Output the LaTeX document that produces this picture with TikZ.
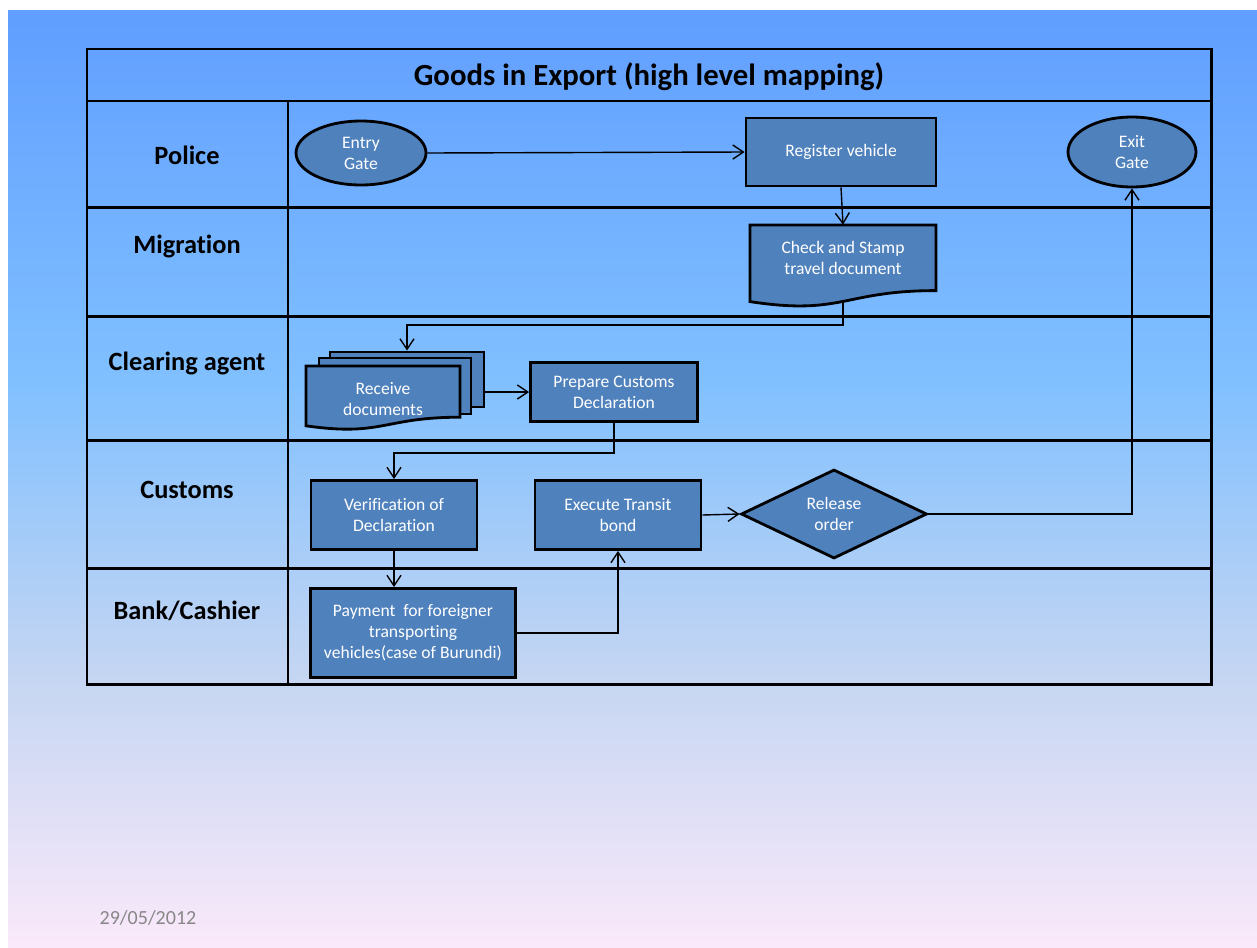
\documentclass[tikz,border=0pt]{standalone}
\usepackage{fontspec}
\setmainfont{Carlito}[Ligatures=CommonOff]
\usetikzlibrary{shapes.geometric,arrows.meta}

\definecolor{boxblue}{HTML}{4F81BD}
\definecolor{dategray}{RGB}{135,135,135}
\definecolor{skytop}{RGB}{96,158,255}
\definecolor{skymid}{RGB}{128,192,255}
\definecolor{skylow}{RGB}{198,214,242}
\definecolor{skybot}{RGB}{250,233,250}

% slide background, the path is mapped onto 25bp..75bp
\pgfdeclareverticalshading{slidesky}{100bp}{%
  color(0bp)=(skybot);
  color(25bp)=(skybot);
  color(39.2bp)=(skylow);
  color(55.3bp)=(skymid);
  color(75bp)=(skytop);
  color(100bp)=(skytop)}

\tikzset{
  stepbox/.style={draw, fill=boxblue, line width=1.6pt, text=white,
    align=center, inner sep=0pt, font=\fontsize{10}{12}\selectfont},
  gatebox/.style={stepbox, ellipse},
  choicebox/.style={stepbox, diamond, aspect=2},
  textonly/.style={text=white, align=center, inner sep=0pt,
    font=\fontsize{10}{12}\selectfont},
  lanename/.style={font=\bfseries\fontsize{15}{18}\selectfont},
  laneline/.style={line width=1.7pt},
  flow/.style={line width=0.8pt, -{Straight Barb[length=6pt,width=8pt]}}
}

\begin{document}
\begin{tikzpicture}[x=0.02cm,y=-0.02cm]
  \useasboundingbox (0,0) rectangle (1257,947);
  \shade[shading=slidesky]
    (8,10) rectangle (1257,947);

  % swimlane table
  \draw[laneline]
    (87,49)
    rectangle
    (1211,684);
  \draw[laneline]
    (87,101)
    --
    (1211,101);
  \draw[laneline]
    (87,207)
    --
    (1211,207);
  \draw[laneline]
    (87,316)
    --
    (1211,316);
  \draw[laneline]
    (87,440)
    --
    (1211,440);
  \draw[laneline]
    (87,568)
    --
    (1211,568);
  \draw[laneline]
    (288,101)
    --
    (288,684);

  \node[font=\bfseries\fontsize{17.5}{20}\selectfont] (title) at (649,77)
    {Goods in Export (high level mapping)};
  \node[lanename] (police) at (187,155) {Police};
  \node[lanename] (migration) at (187,246) {Migration};
  \node[lanename] (agent) at (187,363) {Clearing agent};
  \node[lanename] (customs) at (187,490) {Customs};
  \node[lanename] (bank) at (187,611) {Bank/Cashier};

  % steps
  \node[gatebox, minimum width=2.6cm, minimum height=1.28cm] (entry)
    at (361,153) {Entry\\Gate};
  \node[stepbox, minimum width=3.8cm, minimum height=1.36cm] (register)
    at (841,152) {Register vehicle};
  \node[gatebox, minimum width=2.56cm, minimum height=1.4cm] (exit)
    at (1132,152) {Exit\\Gate};

  \draw[fill=boxblue, line width=1.6pt]
    (750,225)
    --
    (936,225)
    --
    (936,290.6)
    .. controls (843,290.6) and (843,315.8) ..
    (750,301.6)
    --
    cycle;
  \node[textonly, minimum height=1.32cm] (check) at (843,258)
    {Check and Stamp\\travel document};
  \coordinate (checkbottom) at (843,301);

  \node[stepbox, minimum width=3.08cm, minimum height=1.1cm] (receiveback)
    at (407,379.5) {};
  \node[stepbox, minimum width=3.04cm, minimum height=1.12cm] (receivemid)
    at (395,386) {};
  \draw[fill=boxblue, line width=1.6pt]
    (306,366)
    --
    (460,366)
    --
    (460,417.2)
    .. controls (383,417.2) and (383,436.8) ..
    (306,425.8)
    --
    cycle;
  \node[textonly] (receive) at (383,399) {Receive\\documents};

  \node[stepbox, minimum width=3.34cm, minimum height=1.18cm] (prepare)
    at (614,392) {Prepare Customs\\Declaration};
  \node[stepbox, minimum width=3.32cm, minimum height=1.38cm] (verify)
    at (394,515) {Verification of\\Declaration};
  \node[stepbox, minimum width=3.32cm, minimum height=1.38cm] (transit)
    at (618,515) {Execute Transit\\bond};
  \node[choicebox, minimum width=3.72cm, minimum height=1.78cm] (release)
    at (834,514) {Release\\order};
  \node[stepbox, minimum width=4.1cm, minimum height=1.78cm] (payment)
    at (413,633) {Payment\ \ for foreigner\\transporting\\vehicles(case of Burundi)};

  % connectors
  \draw[flow]
    (entry.east)
    --
    (register.west);
  \draw[flow]
    (register.south)
    --
    (check.north);
  \draw[flow]
    (checkbottom)
    -- ++(0,24) -|
    (receiveback.north);
  \draw[flow]
    (prepare.west -| receiveback.east)
    --
    (prepare.west);
  \draw[flow]
    (prepare.south)
    -- ++(0,30) -|
    (verify.north);
  \draw[flow]
    (verify.south)
    --
    (verify.south |- payment.north);
  \draw[flow]
    (payment.east)
    -|
    (transit.south);
  \draw[flow]
    (transit.east)
    --
    (release.west);
  \draw[flow]
    (release.east)
    -|
    (exit.south);

  \node[text=dategray, font=\fontsize{11.4}{13}\selectfont] (date)
    at (148,918) {29/05/2012};
\end{tikzpicture}
\end{document}
